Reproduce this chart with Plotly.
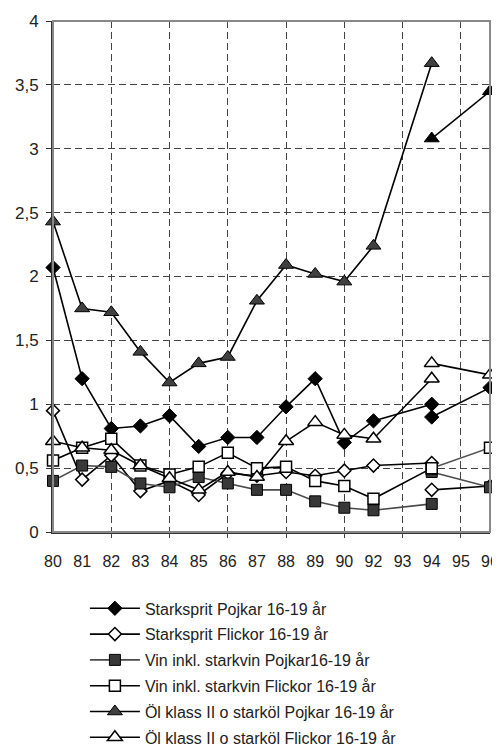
import plotly.graph_objects as go

categories = ["80", "81", "82", "83", "84", "85", "86", "87", "88", "89", "90", "92", "93", "94", "95", "96"]
grid_categories = ["82", "84", "86", "88", "90", "93", "95"]
y_tickvals = [0, 0.5, 1, 1.5, 2, 2.5, 3, 3.5, 4]
y_ticktext = ["0", "0,5", "1", "1,5", "2", "2,5", "3", "3,5", "4"]

# first series segment: 80 .. 94
seg1_cats = ["80", "81", "82", "83", "84", "85", "86", "87", "88", "89", "90", "92", "93", "94"]
starksprit_pojkar = [2.07, 1.20, 0.81, 0.83, 0.91, 0.67, 0.74, 0.74, 0.98, 1.20, 0.70, 0.87, None, 1.00]
starksprit_flickor = [0.95, 0.41, 0.60, 0.32, 0.40, 0.29, 0.46, 0.44, 0.47, 0.44, 0.48, 0.52, None, 0.54]
vin_pojkar = [0.40, 0.52, 0.51, 0.38, 0.35, 0.43, 0.38, 0.33, 0.33, 0.24, 0.19, 0.17, None, 0.22]
vin_flickor = [0.56, 0.66, 0.73, 0.52, 0.45, 0.51, 0.62, 0.50, 0.51, 0.40, 0.36, 0.26, None, 0.50]
ol_pojkar = [2.43, 1.75, 1.72, 1.41, 1.17, 1.32, 1.37, 1.81, 2.09, 2.02, 1.96, 2.24, None, 3.67]
ol_flickor = [0.71, 0.66, 0.64, 0.52, 0.42, 0.33, 0.47, 0.43, 0.71, 0.86, 0.76, 0.73, None, 1.20]

# second series segment (new method): 94 .. 96
seg2_cats = ["94", "96"]
starksprit_pojkar_b = [0.90, 1.13]
starksprit_flickor_b = [0.33, 0.36]
vin_pojkar_b = [0.47, 0.35]
vin_flickor_b = [0.50, 0.66]
ol_pojkar_b = [3.08, 3.45]
ol_flickor_b = [1.32, 1.23]

names = [
    "Starksprit Pojkar 16-19 år",
    "Starksprit Flickor 16-19 år",
    "Vin inkl. starkvin Pojkar16-19 år",
    "Vin inkl. starkvin Flickor 16-19 år",
    "Öl klass II o starköl Pojkar 16-19 år",
    "Öl klass II o starköl Flickor 16-19 år",
]

styles = [
    dict(symbol="diamond", size=11, color="#000000", lc="#000000", lc2="#000000", mc2="#000000"),
    dict(symbol="diamond-open", size=10, color="#000000", lc="#000000", lc2="#000000", mc2="#000000"),
    dict(symbol="square", size=11, color="#383838", lc="#4a4a4a", lc2="#4a4a4a", mc2="#383838"),
    dict(symbol="square-open", size=11, color="#000000", lc="#000000", lc2="#555555", mc2="#000000"),
    dict(symbol="triangle-up", size=13, color="#404040", lc="#000000", lc2="#000000", mc2="#000000"),
    dict(symbol="triangle-up-open", size=13, color="#000000", lc="#000000", lc2="#000000", mc2="#000000"),
]

seg1 = [starksprit_pojkar, starksprit_flickor, vin_pojkar, vin_flickor, ol_pojkar, ol_flickor]
seg2 = [starksprit_pojkar_b, starksprit_flickor_b, vin_pojkar_b, vin_flickor_b, ol_pojkar_b, ol_flickor_b]

fig = go.Figure()

def marker_for(st, col):
    sym = st["symbol"]
    if sym.endswith("-open"):
        return dict(symbol=sym.replace("-open", ""), size=st["size"], color="white",
                    line=dict(color=col, width=1.5))
    return dict(symbol=sym, size=st["size"], color=col, line=dict(color="#000000", width=1))

for i, (name, st) in enumerate(zip(names, styles)):
    fig.add_trace(go.Scatter(
        x=seg1_cats, y=seg1[i], name=name, mode="lines+markers", connectgaps=True,
        line=dict(color=st["lc"], width=1.6), marker=marker_for(st, st["color"]),
        legendgroup=f"g{i}", cliponaxis=False,
    ))
    fig.add_trace(go.Scatter(
        x=seg2_cats, y=seg2[i], name=name, mode="lines+markers", showlegend=False,
        line=dict(color=st["lc2"], width=1.6), marker=marker_for(st, st["mc2"]),
        legendgroup=f"g{i}", cliponaxis=False,
    ))

# invisible helper trace so the gridline axis is drawn
fig.add_trace(go.Scatter(x=categories, y=[0] * len(categories), xaxis="x2", mode="markers",
                         marker=dict(opacity=0), showlegend=False, hoverinfo="skip"))

font_family = "Liberation Sans, Arial, sans-serif"

# page body has an 8px default margin, so the figure is sized to fit the 500x749 window
fig.update_layout(
    width=492, height=741,
    margin=dict(l=45, r=10, t=13, b=217),
    paper_bgcolor="white", plot_bgcolor="white",
    font=dict(family=font_family, size=16, color="#222222"),
    showlegend=True,
    legend=dict(
        x=0.073, y=0.2127, xanchor="left", yanchor="top", yref="container",
        font=dict(family=font_family, size=16, color="#222222"),
        tracegroupgap=2, itemwidth=50, bgcolor="rgba(0,0,0,0)",
    ),
    xaxis=dict(
        type="category", categoryorder="array", categoryarray=categories,
        range=[0, len(categories) - 1], showgrid=False, zeroline=False,
        showline=True, linecolor="#333333", linewidth=2,
        ticks="", ticklabelstandoff=14, automargin=False,
        tickfont=dict(size=16),
    ),
    xaxis2=dict(
        type="category", categoryorder="array", categoryarray=categories,
        overlaying="x", range=[0, len(categories) - 1],
        tickmode="array", tickvals=grid_categories, showticklabels=False,
        showgrid=True, gridcolor="#444444", gridwidth=1, griddash="7px,4px",
        ticks="outside", ticklen=5, tickcolor="#444444", side="bottom",
        showline=False, zeroline=False, automargin=False,
    ),
    yaxis=dict(
        range=[0, 4], tickmode="array", tickvals=y_tickvals, ticktext=y_ticktext,
        showgrid=True, gridcolor="#444444", gridwidth=1, griddash="7px,4px",
        zeroline=False, showline=True, linecolor="#333333", linewidth=2,
        ticks="outside", ticklen=5, tickcolor="#333333", ticklabelstandoff=4,
        tickfont=dict(size=17), automargin=False,
    ),
    shapes=[dict(type="rect", xref="x domain", yref="y domain", x0=0, x1=1, y0=0, y1=1,
                 line=dict(color="#888888", width=2), layer="above")],
)

fig.write_html("out.html")
